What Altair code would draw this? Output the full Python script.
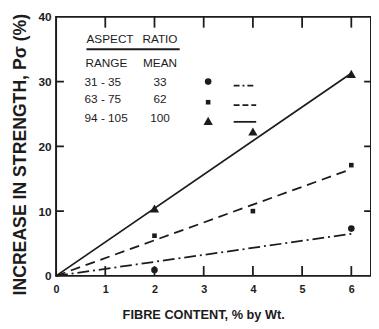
import altair as alt
import pandas as pd

# ---- data ----
fibre_pts = [2, 4, 6]
ar100_pts = [10.4, 22.3, 31.2]
ar62_pts = [6.2, 10.0, 17.1]
ar33_x = [2, 6]
ar33_pts = [0.9, 7.3]
fit_x = [0, 6]
fit100 = [0, 31.3]
fit62 = [0, 16.5]
fit33 = [0, 6.5]
x_ticks = [0, 1, 2, 3, 4, 5, 6]
y_ticks = [0, 10, 20, 30, 40]
legend_range = ["31 - 35", "63 - 75", "94 - 105"]
legend_mean = ["33", "62", "100"]

# ---- layout / style ----
W, H = 321, 264
INK = "#1c1c1c"
FONT = "Liberation Sans"
xs = alt.Scale(domain=[0, 6.4], nice=False, zero=False)
ys = alt.Scale(domain=[0, 40], nice=False)

x_axis = alt.Axis(values=x_ticks, ticks=False, domain=False, grid=False,
                  labelFont=FONT, labelFontWeight="bold", labelFontSize=11,
                  labelColor=INK, labelPadding=8, labelFlush=False,
                  title="FIBRE CONTENT, % by Wt.", titleFont=FONT,
                  titleFontSize=13, titleFontWeight="bold", titleColor=INK,
                  titlePadding=14, titleX=150)
y_axis = alt.Axis(values=y_ticks, ticks=False, domain=False, grid=False,
                  labelFont=FONT, labelFontWeight="bold", labelFontSize=12,
                  labelColor=INK, labelPadding=5, labelFlush=False,
                  title="INCREASE IN STRENGTH, P\u03c3 (%)",
                  titleFont=FONT, titleFontSize=18, titleFontWeight="bold",
                  titleColor=INK, titlePadding=9, titleY=140)


def X(field="x:Q"):
    return alt.X(field, scale=xs, axis=x_axis)


def Y(field="y:Q"):
    return alt.Y(field, scale=ys, axis=y_axis)


def fit_line(yv, dash):
    df = pd.DataFrame({"x": fit_x, "y": yv})
    props = dict(color=INK, strokeWidth=1.8)
    if dash:
        props["strokeDash"] = dash
    return alt.Chart(df).mark_line(**props).encode(x=X(), y=Y())


def points(xv, yv, shape, size):
    df = pd.DataFrame({"x": xv, "y": yv})
    return alt.Chart(df).mark_point(shape=shape, size=size, filled=True,
                                    color=INK, opacity=1).encode(x=X(), y=Y())


DASH62 = [10, 6]
DASH33 = [12, 4, 2, 4]

l100 = fit_line(fit100, None)
l62 = fit_line(fit62, DASH62)
l33 = fit_line(fit33, DASH33)
p100 = points(fibre_pts, ar100_pts, "triangle-up", 90)
p62 = points(fibre_pts, ar62_pts, "square", 22)
p33 = points(ar33_x, ar33_pts, "circle", 45)

# ---- inward tick marks on all four sides ----
xt = pd.DataFrame({"x": x_ticks[1:]})
yt = pd.DataFrame({"y": y_ticks[1:-1]})
tick_bottom = alt.Chart(xt).mark_rule(color=INK, strokeWidth=1.8).encode(
    x=X(), y=alt.value(H), y2=alt.value(H - 10))
tick_top = alt.Chart(xt).mark_rule(color=INK, strokeWidth=1.8).encode(
    x=X(), y=alt.value(0), y2=alt.value(11))
tick_left = alt.Chart(yt).mark_rule(color=INK, strokeWidth=1.8).encode(
    y=Y(), x=alt.value(0), x2=alt.value(8))
tick_right = alt.Chart(yt).mark_rule(color=INK, strokeWidth=1.8).encode(
    y=Y(), x=alt.value(W - 7), x2=alt.value(W))

# ---- hand-drawn key (table in the upper left) ----
LX_RANGE, LX_MEAN, LX_SYM, LX_L0, LX_L1 = 29, 106, 155, 181, 204
ROW_Y = [66, 84, 103]
SYM_Y = [66, 87, 106]
LINE_Y = [70, 90, 107]


def txt(text, x, y, align="left", size=12):
    return alt.Chart(pd.DataFrame({"t": [text]})).mark_text(
        font=FONT, fontSize=size, color=INK, align=align, baseline="middle"
    ).encode(text="t:N", x=alt.value(x), y=alt.value(y))


key = [
    txt("ASPECT", 31, 23), txt("RATIO", 88, 23),
    alt.Chart(pd.DataFrame({"a": [0]})).mark_rule(color=INK, strokeWidth=2).encode(
        x=alt.value(31), x2=alt.value(126), y=alt.value(33)),
    txt("RANGE", 30, 47), txt("MEAN", 106, 47, align="center"),
]
for i in range(3):
    key.append(txt(legend_range[i], LX_RANGE, ROW_Y[i]))
    key.append(txt(legend_mean[i], LX_MEAN, ROW_Y[i], align="center"))

shapes = [("circle", 45), ("square", 22), ("triangle-up", 90)]
for i in range(3):
    key.append(alt.Chart(pd.DataFrame({"a": [0]})).mark_point(
        shape=shapes[i][0], size=shapes[i][1], filled=True, color=INK, opacity=1
    ).encode(x=alt.value(LX_SYM), y=alt.value(SYM_Y[i])))
    rp = dict(color=INK, strokeWidth=1.8)
    if i == 0:
        rp["strokeDash"] = [6, 3, 2, 3]
    elif i == 1:
        rp["strokeDash"] = [6, 3]
    key.append(alt.Chart(pd.DataFrame({"a": [0]})).mark_rule(**rp).encode(
        x=alt.value(LX_L0), x2=alt.value(LX_L1), y=alt.value(LINE_Y[i])))

chart = alt.layer(
    l100, l62, l33, p100, p62, p33,
    tick_bottom, tick_top, tick_left, tick_right, *key
).properties(
    width=W, height=H,
    padding={"left": 49, "top": 6, "right": 0, "bottom": 45},
    autosize=alt.AutoSizeParams(type="none"),
    background="white",
).configure_view(stroke=INK, strokeWidth=2)

chart.save("out.html", embed_options={"renderer": "svg", "actions": False})
